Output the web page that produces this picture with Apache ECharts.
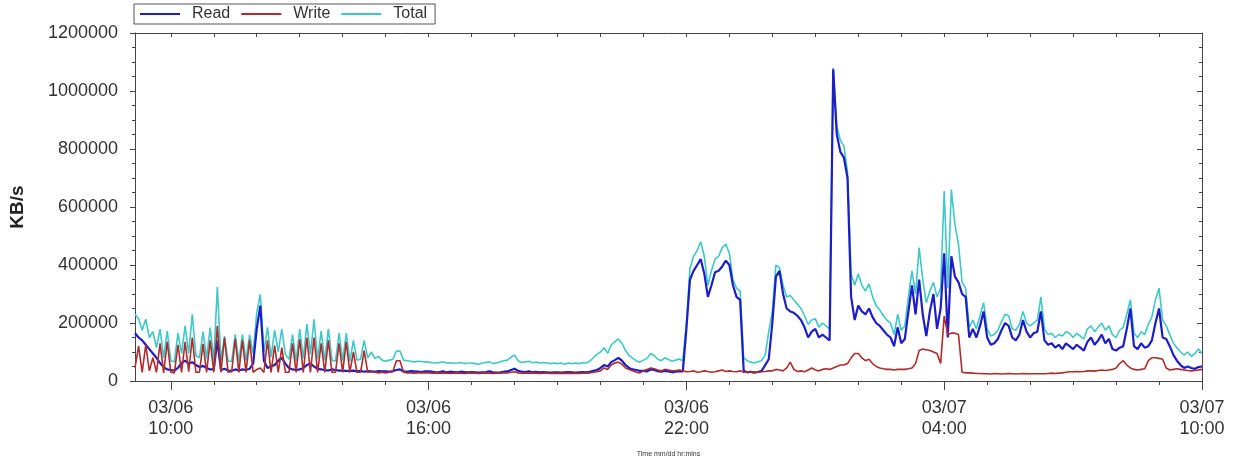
<!DOCTYPE html>
<html>
<head>
<meta charset="utf-8">
<script src="https://cdn.jsdelivr.net/npm/echarts@6.0.0/dist/echarts.min.js"></script>
<style>
  html, body { margin: 0; padding: 0; background: #fff; }
  #chart { width: 1233px; height: 463px; }
</style>
</head>
<body>
<div id="chart"></div>
<script>
// values in thousands of KB/s, one sample every 5 minutes from 03/06 09:10 to 03/07 10:00
var readK = [
  165,150,140,125,110,95,80,62,48,40,                    // 09:10
  38,36,45,62,70,60,65,55,48,52,45,40,                   // 10:00
  40,140,38,42,36,35,40,36,40,38,42,60,                  // 11:00
  180,260,70,45,50,55,70,80,60,45,40,38,                 // 12:00
  40,45,55,60,50,42,40,38,36,40,38,36,                   // 13:00
  36,35,34,36,33,35,32,34,33,32,34,33,                   // 14:00
  33,32,34,38,40,33,32,34,33,32,31,33,                   // 15:00
  33,32,30,31,33,30,32,31,30,32,31,30,                   // 16:00
  31,30,29,30,31,33,30,29,30,32,33,38,                   // 17:00
  42,35,32,31,33,30,32,30,31,30,29,30,                   // 18:00
  30,29,30,31,30,29,30,31,30,32,35,38,                   // 19:00
  45,55,50,65,72,80,70,55,45,40,38,35,                   // 20:00
  35,33,40,38,34,32,35,33,30,32,34,33,                   // 21:00
  180,350,380,400,420,370,290,330,375,380,395,415,       // 22:00
  400,330,290,280,35,30,32,30,31,35,55,75,               // 23:00
  200,360,380,300,250,240,235,225,210,185,150,170,       // 00:00
  180,150,160,150,140,1075,850,790,770,700,290,210,      // 01:00
  260,240,230,250,220,200,190,175,160,150,120,185,       // 02:00
  130,145,240,330,230,350,230,155,240,300,180,250,       // 03:00
  440,150,430,360,340,300,290,150,180,150,190,240,       // 04:00
  150,125,130,145,175,200,190,150,140,160,210,170,       // 05:00
  150,165,170,240,140,125,130,115,125,110,130,120,       // 06:00
  110,125,115,105,135,150,125,140,160,130,145,110,       // 07:00
  105,115,120,180,250,120,110,130,115,120,140,200,       // 08:00
  250,150,145,120,90,70,55,45,50,45,42,48,               // 09:00
  50                                                     // 10:00
];
var writeK = [
  45,120,30,125,35,80,30,130,28,135,
  30,28,125,30,135,32,150,30,30,128,30,140,
  30,190,30,150,30,32,145,30,140,30,140,30,
  40,45,30,140,30,122,30,115,30,30,130,30,
  144,30,150,30,150,30,130,30,140,30,30,130,
  30,135,30,100,30,30,105,30,32,30,28,30,
  28,30,32,70,70,30,28,28,27,28,28,28,
  28,27,28,27,28,27,26,27,28,27,26,27,
  27,27,26,27,28,27,26,27,27,28,28,30,
  32,28,27,27,28,27,27,26,27,27,26,27,
  26,27,26,27,26,27,26,27,27,28,30,32,
  35,45,40,55,62,65,58,45,40,35,30,28,
  35,40,45,42,38,35,40,38,35,36,38,35,
  32,33,35,30,32,35,33,30,32,35,38,33,
  35,33,32,35,30,32,30,28,30,32,33,35,
  35,40,38,35,45,65,40,33,35,32,38,45,
  38,35,40,42,40,45,50,55,55,60,80,95,
  95,80,70,75,60,50,45,42,40,40,38,40,
  40,40,42,45,60,105,110,108,105,100,95,60,
  224,160,165,165,160,30,28,28,27,26,26,25,
  25,24,26,25,24,25,26,25,24,25,26,25,
  25,25,25,25,25,26,27,26,27,28,30,32,
  32,33,32,33,35,35,34,36,38,36,38,40,
  45,60,70,55,45,40,38,40,42,70,80,80,
  78,75,45,38,40,42,40,38,36,35,36,38,
  40
];
var totalK = [
  230,215,175,213,150,170,115,179,80,172,
  70,66,165,95,190,95,230,88,80,170,78,184,
  72,324,70,155,68,68,161,68,161,70,160,95,
  236,299,100,185,82,175,100,180,92,75,160,68,
  179,78,196,92,213,75,172,70,180,72,68,165,
  70,165,68,140,72,75,140,80,100,78,85,72,
  68,72,75,103,103,72,70,68,66,68,67,66,
  65,63,62,64,66,62,63,61,62,64,60,62,
  62,60,58,62,64,66,60,62,66,70,72,82,
  90,70,64,66,68,63,65,62,64,63,60,62,
  60,62,58,62,60,62,60,63,62,68,80,92,
  100,115,95,125,135,145,130,105,88,78,70,65,
  72,78,95,88,75,70,80,74,68,72,76,70,
  200,390,430,450,480,430,330,380,420,430,460,472,
  440,350,320,310,80,70,65,62,66,70,90,170,
  240,400,390,330,290,295,280,265,250,225,195,210,
  215,185,200,190,180,1080,880,830,810,720,370,330,
  370,330,310,335,290,260,245,225,210,200,160,230,
  175,190,290,380,300,460,350,270,310,340,290,320,
  655,320,660,540,470,340,320,185,210,180,225,270,
  180,155,160,175,205,230,225,180,175,195,240,200,
  190,200,210,290,180,160,165,150,160,155,170,165,
  150,165,155,145,180,190,170,185,200,175,190,160,
  150,175,185,230,280,165,150,170,160,195,220,280,
  320,210,190,160,130,115,100,90,100,85,95,110,
  95
];
var labelTimes = ['03/06 10:00', '03/06 16:00', '03/06 22:00', '03/07 04:00', '03/07 10:00'];
var yTicks = [0, 200000, 400000, 600000, 800000, 1000000, 1200000];

function pad(n) { return (n < 10 ? '0' : '') + n; }

// 5 minute sample times
var times = [];
for (var i = 0; i < readK.length; i++) {
    var m = 9 * 60 + 10 + i * 5;
    var hm = m % 1440;
    times.push('03/' + pad(6 + Math.floor(m / 1440)) + ' ' + pad(Math.floor(hm / 60)) + ':' + pad(hm % 60));
}
function toKB(arr) { return arr.map(function (v) { return v * 1000; }); }

var isHour = function (idx, val) { return val.slice(-2) === '00'; };
var isLabel = function (idx, val) { return labelTimes.indexOf(val) >= 0; };
var axisColor = '#444';
var font = 'Liberation Sans, Arial, sans-serif';

var chart = echarts.init(document.getElementById('chart'));
chart.setOption({
    animation: false,
    backgroundColor: '#fff',
    grid: { left: 135, right: 31, top: 33, bottom: 81 },
    legend: {
        data: ['Read', 'Write', 'Total'],
        left: 134, top: 4,
        padding: [2, 8, 2, 6],
        borderColor: '#555', borderWidth: 1,
        icon: 'rect', itemWidth: 40, itemHeight: 2, itemGap: 11,
        textStyle: { fontFamily: font, fontSize: 16, color: '#333', padding: [0, 0, 0, 7] }
    },
    xAxis: [
        {
            type: 'category', data: times, boundaryGap: false, position: 'bottom',
            axisLine: { lineStyle: { color: axisColor } },
            axisTick: { interval: isHour, length: 4, lineStyle: { color: axisColor } },
            axisLabel: {
                interval: isLabel, fontFamily: font, fontSize: 18, lineHeight: 21, color: '#333', margin: 17,
                formatter: function (v) { return v.replace(' ', '\n'); }
            },
            name: 'Time mm/dd hr:mins', nameLocation: 'middle', nameGap: 70,
            nameTextStyle: { fontFamily: font, fontSize: 7, color: '#333' }
        },
        {
            type: 'category', data: times, boundaryGap: false, position: 'bottom',
            axisLine: { show: false },
            axisTick: { interval: isLabel, length: 9, lineStyle: { color: axisColor } },
            axisLabel: { show: false }
        },
        {
            type: 'category', data: times, boundaryGap: false, position: 'top',
            axisLine: { lineStyle: { color: axisColor } },
            axisTick: { interval: isHour, inside: true, length: 4, lineStyle: { color: axisColor } },
            axisLabel: { show: false }
        }
    ],
    yAxis: [
        {
            type: 'value', min: yTicks[0], max: yTicks[yTicks.length - 1], interval: yTicks[1] - yTicks[0],
            splitLine: { show: false },
            axisLine: { show: true, lineStyle: { color: axisColor } },
            axisTick: { show: true, length: 5, lineStyle: { color: axisColor } },
            minorTick: { show: true, splitNumber: 4, length: 3, lineStyle: { color: axisColor } },
            axisLabel: {
                fontFamily: font, fontSize: 18, color: '#333', margin: 17,
                formatter: function (v) { return String(v); }
            },
            name: 'KB/s', nameLocation: 'middle', nameGap: 108,
            nameTextStyle: { fontFamily: font, fontSize: 19, fontWeight: 'bold', color: '#222' }
        },
        {
            type: 'value', position: 'right', min: yTicks[0], max: yTicks[yTicks.length - 1], interval: yTicks[1] - yTicks[0],
            splitLine: { show: false },
            axisLine: { show: true, lineStyle: { color: axisColor } },
            axisTick: { show: true, inside: true, length: 5, lineStyle: { color: axisColor } },
            minorTick: { show: true, splitNumber: 4, length: 3, lineStyle: { color: axisColor } },
            axisLabel: { show: false }
        }
    ],
    series: [
        {
            name: 'Total', type: 'line', data: toKB(totalK), z: 2,
            showSymbol: false, symbol: 'none', color: '#3ec8c8',
            lineStyle: { width: 1.6 }
        },
        {
            name: 'Read', type: 'line', data: toKB(readK), z: 3,
            showSymbol: false, symbol: 'none', color: '#1c1cc8',
            lineStyle: { width: 2.2 }
        },
        {
            name: 'Write', type: 'line', data: toKB(writeK), z: 4,
            showSymbol: false, symbol: 'none', color: '#b02c2c',
            lineStyle: { width: 1.6 }
        }
    ]
});
</script>
</body>
</html>
